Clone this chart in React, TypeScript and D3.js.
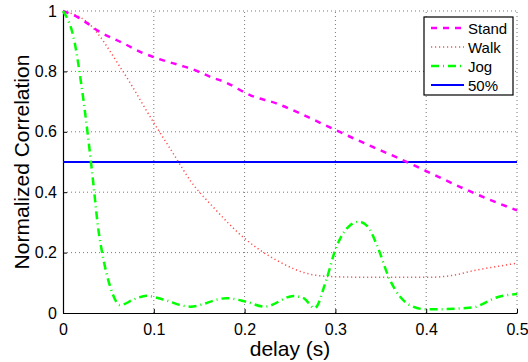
import { useEffect, useRef } from 'react';
import { select, scaleLinear, line, curveMonotoneX, axisBottom, axisLeft } from 'd3';

// delay (s) / normalized correlation
const standX = [0, 0.016, 0.041, 0.066, 0.085, 0.107, 0.129, 0.14, 0.164, 0.178, 0.207, 0.235, 0.261, 0.3, 0.341, 0.367, 0.4, 0.437, 0.47, 0.5];
const standY = [1, 0.98, 0.93, 0.894, 0.865, 0.84, 0.82, 0.81, 0.78, 0.765, 0.72, 0.694, 0.661, 0.606, 0.55, 0.516, 0.47, 0.418, 0.375, 0.34];

const walkX = [0, 0.026, 0.066, 0.1, 0.121, 0.141, 0.165, 0.2, 0.235, 0.276, 0.3, 0.35, 0.4, 0.43, 0.455, 0.48, 0.5];
const walkY = [1, 0.965, 0.8, 0.63, 0.53, 0.435, 0.352, 0.247, 0.175, 0.126, 0.12, 0.118, 0.118, 0.125, 0.142, 0.155, 0.165];

const jogX = [0, 0.013, 0.02, 0.028, 0.033, 0.039, 0.044, 0.052, 0.063, 0.078, 0.092, 0.11, 0.14, 0.18, 0.202, 0.222, 0.254, 0.265, 0.277, 0.29, 0.3, 0.316, 0.326, 0.336, 0.345, 0.36, 0.382, 0.4, 0.45, 0.48, 0.5];
const jogY = [1, 0.893, 0.76, 0.573, 0.44, 0.275, 0.186, 0.087, 0.026, 0.045, 0.057, 0.045, 0.021, 0.049, 0.037, 0.021, 0.056, 0.049, 0.016, 0.11, 0.21, 0.29, 0.302, 0.285, 0.23, 0.11, 0.026, 0.012, 0.018, 0.054, 0.063];

const thresholdY = 0.5;

const xTicks = [0, 0.1, 0.2, 0.3, 0.4, 0.5];
const yTicks = [0, 0.2, 0.4, 0.6, 0.8, 1];
const legendNames = ['Stand', 'Walk', 'Jog', '50%'];

const W = 528;
const H = 362;
const margin = { top: 11, right: 11, bottom: 49, left: 63 };

const App = () => {
  const ref = useRef<SVGSVGElement>(null);

  useEffect(() => {
    const svg = select(ref.current);
    svg.selectAll('*').remove();

    const xScale = scaleLinear().domain([0, 0.5]).range([margin.left, W - margin.right]);
    const yScale = scaleLinear().domain([0, 1]).range([H - margin.bottom, margin.top]);

    const font = 'Liberation Sans, Arial, sans-serif';

    // grid
    const grid = svg.append('g');
    grid
      .selectAll('.gx')
      .data(xTicks.slice(1))
      .join('line')
      .attr('x1', (d) => xScale(d))
      .attr('x2', (d) => xScale(d))
      .attr('y1', yScale(0))
      .attr('y2', yScale(1))
      .attr('stroke', '#555')
      .attr('stroke-width', 0.8)
      .attr('stroke-dasharray', '1,3');
    grid
      .selectAll('.gy')
      .data(yTicks.slice(1))
      .join('line')
      .attr('y1', (d) => yScale(d))
      .attr('y2', (d) => yScale(d))
      .attr('x1', xScale(0))
      .attr('x2', xScale(0.5))
      .attr('stroke', '#555')
      .attr('stroke-width', 0.8)
      .attr('stroke-dasharray', '1,3');

    // axes
    const xAxis = axisBottom(xScale).tickValues(xTicks).tickSizeInner(-4).tickSizeOuter(0).tickPadding(8).tickFormat((d: any) => String(d));
    const yAxis = axisLeft(yScale).tickValues(yTicks).tickSizeInner(-4).tickSizeOuter(0).tickPadding(6).tickFormat((d: any) => String(d));

    const gx = svg.append('g').attr('transform', `translate(0,${yScale(0)})`).call(xAxis as any);
    const gy = svg.append('g').attr('transform', `translate(${xScale(0)},0)`).call(yAxis as any);
    [gx, gy].forEach((g) => {
      g.selectAll('text').attr('font-size', 16).attr('font-family', font).attr('fill', '#000');
      g.select('.domain').attr('stroke', '#000').attr('stroke-width', 1.2);
      g.selectAll('.tick line').attr('stroke', '#000');
    });
    gx.selectAll('.tick text').attr('dy', '0.85em');

    // lines
    const mk = (xs: number[], ys: number[]) =>
      line<number>()
        .x((d, i) => xScale(xs[i]))
        .y((d) => yScale(d))
        .curve(curveMonotoneX)(ys);

    const plot = svg.append('g');
    plot
      .append('line')
      .attr('x1', xScale(0))
      .attr('x2', xScale(0.5))
      .attr('y1', yScale(thresholdY))
      .attr('y2', yScale(thresholdY))
      .attr('stroke', '#0000ff')
      .attr('stroke-width', 2.2);
    plot
      .append('path')
      .attr('d', mk(walkX, walkY))
      .attr('fill', 'none')
      .attr('stroke', '#ff4d4d')
      .attr('stroke-width', 1.5)
      .attr('stroke-dasharray', '1.2,2.8');
    plot
      .append('path')
      .attr('d', mk(standX, standY))
      .attr('fill', 'none')
      .attr('stroke', '#ff00ff')
      .attr('stroke-width', 2.5)
      .attr('stroke-dasharray', '6,6');
    plot
      .append('path')
      .attr('d', mk(jogX, jogY))
      .attr('fill', 'none')
      .attr('stroke', '#00ff00')
      .attr('stroke-width', 2.5)
      .attr('stroke-dasharray', '8,4,1,4');

    // labels
    svg
      .append('text')
      .attr('x', (xScale(0) + xScale(0.5)) / 2)
      .attr('y', 356)
      .attr('text-anchor', 'middle')
      .attr('font-size', 21)
      .attr('font-family', font)
      .text('delay (s)');
    svg
      .append('text')
      .attr('transform', `translate(29,${(yScale(0) + yScale(1)) / 2}) rotate(-90)`)
      .attr('text-anchor', 'middle')
      .attr('font-size', 21)
      .attr('font-family', font)
      .text('Normalized Correlation');

    // legend
    const lg = svg.append('g').attr('transform', 'translate(424,17)');
    lg.append('rect').attr('width', 89).attr('height', 78).attr('fill', '#fff').attr('stroke', '#000').attr('stroke-width', 1.2);
    const styles = [
      { c: '#ff00ff', w: 2.5, dash: '6,6' },
      { c: '#ff4d4d', w: 1.5, dash: '1.2,2.8' },
      { c: '#00ff00', w: 2.5, dash: '8,4,1,4' },
      { c: '#0000ff', w: 2.2, dash: null },
    ];
    legendNames.forEach((name, i) => {
      const y = 11 + i * 19;
      const s = styles[i];
      lg.append('line')
        .attr('x1', 7)
        .attr('x2', 40)
        .attr('y1', y)
        .attr('y2', y)
        .attr('stroke', s.c)
        .attr('stroke-width', s.w)
        .attr('stroke-dasharray', s.dash);
      lg.append('text')
        .attr('x', 44)
        .attr('y', y + 5.5)
        .attr('font-size', 15)
        .attr('font-family', font)
        .text(name);
    });
  }, []);

  return <svg ref={ref} width={W} height={H} style={{ position: 'absolute', left: 0, top: 0, background: '#fff' }} />;
};

export default App;
